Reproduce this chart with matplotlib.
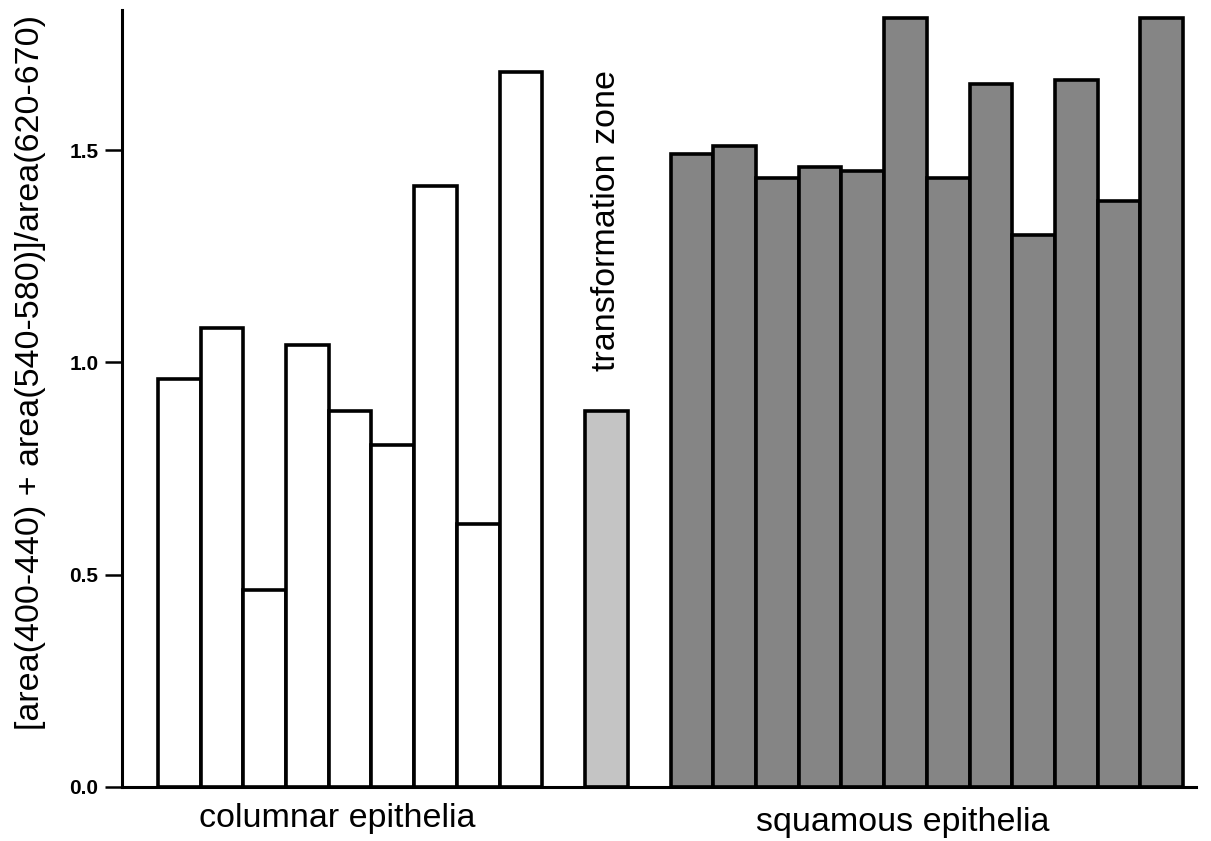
import matplotlib
matplotlib.use("Agg")
import matplotlib.pyplot as plt

columnar = [0.96, 1.08, 0.465, 1.04, 0.885, 0.805, 1.415, 0.62, 1.685]
transformation = [0.885]
squamous = [1.49, 1.51, 1.435, 1.46, 1.45, 1.81, 1.435, 1.655, 1.30, 1.665, 1.38, 1.81]
yticks = [0.0, 0.5, 1.0, 1.5]
ytick_labels = ["0.0", "0.5", "1.0", "1.5"]
ylabel = "[area(400-440) + area(540-580)]/area(620-670)"

plt.rcParams['font.family'] = ['Liberation Sans', 'DejaVu Sans']

fig = plt.figure(figsize=(12.11, 8.41), dpi=100)
ax = fig.add_axes([122/1211, 1-787/841, (1196-122)/1211, 777/841])

x_col = list(range(len(columnar)))
x_tz = [len(columnar) + 1]
x_sq = [len(columnar) + 3 + i for i in range(len(squamous))]

lw = 2.6
ax.bar(x_col, columnar, width=1.0, color="white", edgecolor="black", linewidth=lw)
ax.bar(x_tz, transformation, width=1.0, color="#c4c4c4", edgecolor="black", linewidth=lw)
ax.bar(x_sq, squamous, width=1.0, color="#858585", edgecolor="black", linewidth=lw)

ax.set_xlim(-1.34, 23.8)
ax.set_ylim(0, 1.83)
ax.spines['top'].set_visible(False)
ax.spines['right'].set_visible(False)
ax.spines['left'].set_linewidth(2.2)
ax.spines['bottom'].set_linewidth(2.2)
ax.set_xticks([])
ax.set_yticks(yticks)
ax.set_yticklabels(ytick_labels, fontsize=15, fontweight='bold')
ax.tick_params(axis='y', length=12, width=1.8, pad=5)

fig.text(31/1211, 1-372/841, ylabel, rotation=90, ha='center', va='center', fontsize=24.5)
ax.text(x_tz[0], 1.334, "transformation zone", rotation=90, ha='center', va='center', fontsize=24.5)
fig.text(337/1211, 1-818/841, "columnar epithelia", ha='center', va='center', fontsize=24.5)
fig.text(903/1211, 1-823/841, "squamous epithelia", ha='center', va='center', fontsize=24.5)

fig.savefig("out.png", dpi=100)
